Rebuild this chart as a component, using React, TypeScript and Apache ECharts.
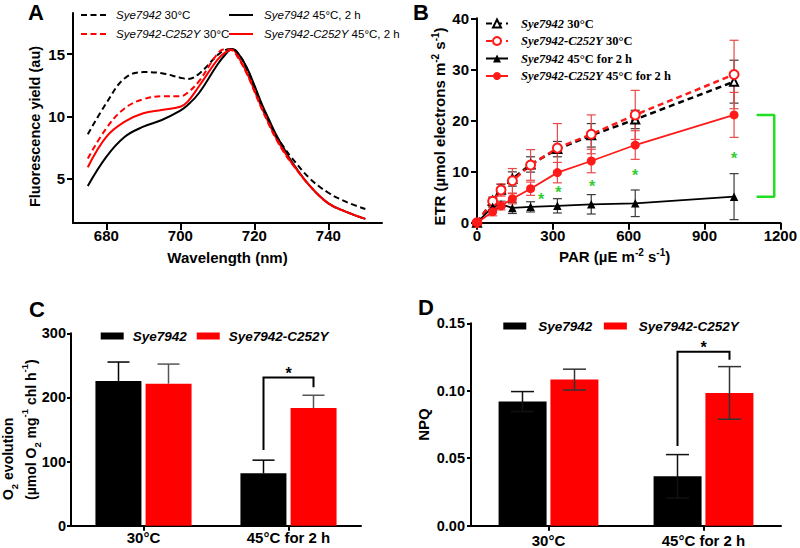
import React, { useEffect, useRef } from "react";
import * as echarts from "echarts";

const SANS = '"Liberation Sans", Arial, Helvetica, sans-serif';
const SERIF = '"Liberation Serif", "Times New Roman", serif';

// ---------- Panel A: fluorescence spectra ----------
const wavelengthNm = [675, 680, 685, 690, 695, 700, 702, 705, 710, 712, 714, 716, 718, 720, 722, 724, 726, 728, 730, 735, 740, 745, 750];
const fluorWt30 = [8.55, 11.05, 13.06, 13.55, 13.46, 13.1, 13.0, 13.4, 14.9, 15.3, 15.4, 14.9, 13.8, 12.4, 10.9, 9.6, 8.4, 7.5, 6.7, 5.0, 3.85, 3.1, 2.55];
const fluorMut30 = [6.6, 9.03, 10.65, 11.37, 11.6, 11.6, 11.9, 12.8, 15.0, 15.4, 15.3, 14.5, 13.4, 12.0, 10.6, 9.3, 8.1, 7.1, 6.25, 4.4, 3.0, 2.3, 1.75];
const fluorWt45 = [4.4, 6.74, 8.35, 9.16, 9.7, 10.45, 10.9, 11.85, 14.14, 14.9, 15.4, 14.9, 13.9, 12.5, 11.0, 9.7, 8.45, 7.4, 6.4, 4.4, 3.0, 2.3, 1.75];
const fluorMut45 = [5.9, 8.35, 9.57, 10.24, 10.5, 10.77, 11.18, 12.39, 14.54, 15.1, 15.35, 14.6, 13.5, 12.1, 10.7, 9.4, 8.2, 7.2, 6.3, 4.4, 3.0, 2.3, 1.75];
const wavelengthTicks = [680, 700, 720, 740];
const fluorTicks = [5, 10, 15];

// ---------- Panel B: ETR light curves ----------
const parLevels = [0, 62, 95, 140, 212, 318, 452, 626, 1017];
const etrWt30 = [0, 4.3, 6.5, 8.55, 11.4, 14.4, 17.1, 20.2, 27.6];
const etrWt30Sd = [0, 0.7, 1.0, 1.4, 1.5, 1.5, 2.3, 1.8, 4.2];
const etrMut30 = [0, 4.2, 6.4, 8.2, 11.3, 14.6, 17.3, 21.1, 29.0];
const etrMut30Sd = [0, 0.6, 1.2, 2.4, 3.0, 4.8, 3.8, 4.8, 6.7];
const etrWt45 = [0, 3.1, 3.6, 2.9, 3.1, 3.3, 3.6, 3.8, 5.1];
const etrWt45Sd = [0, 0.5, 0.6, 1.1, 1.0, 1.4, 1.9, 2.6, 4.5];
const etrMut45 = [0, 2.15, 3.3, 4.7, 6.65, 9.8, 12.07, 15.2, 21.1];
const etrMut45Sd = [0, 0.8, 0.8, 1.0, 1.3, 2.0, 2.3, 2.8, 4.4];
const starPar = [254, 322, 455, 626, 1017];
const starEtr = [5.2, 6.6, 7.7, 9.9, 13.2];
const bracketPar = [1106, 1176];
const bracketEtr = [21.1, 5.1];

// ---------- Panels C & D: bars ----------
const conditions = ["30°C", "45°C for 2 h"];
const o2Wt = [225.7, 81.7];
const o2WtSd = [29.5, 20.5];
const o2Mut = [221.5, 183.6];
const o2MutSd = [30.5, 19.8];
const o2Sig = [118, 231, 216, 243]; // left foot, top, right foot, star
const npqWt = [0.092, 0.0366];
const npqWtSd = [0.0074, 0.0161];
const npqMut = [0.1083, 0.0984];
const npqMutSd = [0.0077, 0.0195];
const npqSig = [0.0591, 0.129, 0.123, 0.135];

const WT = "Sye7942";
const MUT = "Sye7942-C252Y";

const zip = (xs: number[], ys: number[]) => xs.map((x, i) => [x, ys[i]]);

const supRich = {
  sup: { fontSize: 10, fontWeight: "bold", fontFamily: SANS, color: "#000", verticalAlign: "top", lineHeight: 12 },
  sub: { fontSize: 10, fontWeight: "bold", fontFamily: SANS, color: "#000", verticalAlign: "bottom", lineHeight: 12 },
};

const axisLineStyle = { show: true, onZero: false, lineStyle: { color: "#000", width: 2 } };
const tickStyle = (len: number, extra: any = {}) => ({ show: true, inside: false, length: len, lineStyle: { color: "#000", width: 2 }, ...extra });
const labelStyle = (size: number, margin: number, extra: any = {}) => ({
  color: "#000", fontFamily: SANS, fontWeight: "bold", fontSize: size, margin, ...extra,
});
const nameStyle = (size: number, extra: any = {}) => ({
  color: "#000", fontFamily: SANS, fontWeight: "bold", fontSize: size, lineHeight: 18, rich: supRich, ...extra,
});

function errSeries(axis: number, xs: number[], means: number[], sds: number[], color: string, capHalf: number, offset: number, lw: number, both: boolean) {
  const data = xs.map((x, i) => [x, both ? means[i] - sds[i] : means[i], means[i] + sds[i]]);
  return {
    type: "custom",
    xAxisIndex: axis,
    yAxisIndex: axis,
    z: both && axis === 1 ? 1 : 5,
    silent: true,
    encode: { x: 0, y: [1, 2] },
    data,
    renderItem: (_p: any, api: any) => {
      const x = api.value(0);
      const a = api.coord([x, api.value(1)]);
      const b = api.coord([x, api.value(2)]);
      const cx = a[0] + offset;
      const style = { stroke: color, lineWidth: lw };
      const children: any[] = [
        { type: "line", shape: { x1: cx, y1: a[1], x2: cx, y2: b[1] }, style },
        { type: "line", shape: { x1: cx - capHalf, y1: b[1], x2: cx + capHalf, y2: b[1] }, style },
      ];
      if (both) children.push({ type: "line", shape: { x1: cx - capHalf, y1: a[1], x2: cx + capHalf, y2: a[1] }, style });
      return { type: "group", children };
    },
  };
}

function sigSeries(axis: number, sig: number[], offset: number) {
  const idx = conditions.indexOf("45°C for 2 h");
  return {
    type: "custom",
    xAxisIndex: axis,
    yAxisIndex: axis,
    z: 6,
    silent: true,
    data: [[idx, ...sig]],
    renderItem: (_p: any, api: any) => {
      const c = api.value(0);
      const f1 = api.coord([c, api.value(1)]);
      const top = api.coord([c, api.value(2)]);
      const f2 = api.coord([c, api.value(3)]);
      const st = api.coord([c, api.value(4)]);
      const xl = top[0] - offset;
      const xr = top[0] + offset;
      return {
        type: "group",
        children: [
          { type: "polyline", shape: { points: [[xl, f1[1]], [xl, top[1]], [xr, top[1]], [xr, f2[1]]] }, style: { stroke: "#000", lineWidth: 2, fill: "none" } },
          { type: "text", x: top[0], y: st[1] + 3.5, style: { text: "*", fill: "#000", fontSize: 16, fontWeight: "bold", fontFamily: SANS, align: "center", verticalAlign: "middle" } },
        ],
      };
    },
  };
}

function lineA(name: string, ys: number[], color: string, dashed: boolean) {
  return {
    type: "line", name: "A::" + name, xAxisIndex: 0, yAxisIndex: 0,
    data: zip(wavelengthNm, ys), smooth: 0.4, symbol: "none", showSymbol: false,
    lineStyle: { color, width: 2, type: dashed ? [6, 3.5] : "solid" },
    itemStyle: { color },
    z: dashed ? 3 : 2,
  };
}

function lineB(name: string, ys: number[], color: string, symbol: string, size: number, dashed: boolean) {
  return {
    type: "line", name: "B::" + name, xAxisIndex: 1, yAxisIndex: 1,
    data: zip(parLevels, ys), symbol, symbolSize: size, showAllSymbol: true,
    lineStyle: { color, width: dashed ? 2.5 : 1.8, type: dashed ? [6, 4] : "solid" },
    itemStyle: { color, borderWidth: 1.2 },
    z: 3,
  };
}

const legendFormatter = (name: string) => {
  const t = name.split("::")[1] ?? name;
  return t.replace(/^(Sye7942(?:-C252Y)?)/, "{i|$1}");
};

function buildOption(): any {
  const starData = zip(starPar, starEtr);
  const bracketData = [
    [bracketPar[0], bracketEtr[0]],
    [bracketPar[1], bracketEtr[0]],
    [bracketPar[1], bracketEtr[1]],
    [bracketPar[0], bracketEtr[1]],
  ];
  const letter = (t: string, x: number, y: number) => ({
    type: "text", x, y,
    style: { text: t, fill: "#000", fontFamily: SANS, fontWeight: "bold", fontSize: 22, align: "left", verticalAlign: "middle" },
  });
  return {
    animation: false,
    backgroundColor: "#fff",
    grid: [
      { left: 73, top: 13, width: 309, height: 210 },
      { left: 477, top: 18.3, width: 306.5, height: 204.4 },
      { left: 71, top: 333.3, width: 290, height: 192.4 },
      { left: 471, top: 323.3, width: 310, height: 202.4 },
    ],
    xAxis: [
      {
        type: "value", gridIndex: 0, min: 671, max: 754.5,
        axisLine: axisLineStyle, splitLine: { show: false },
        axisTick: tickStyle(7, { customValues: wavelengthTicks }),
        axisLabel: labelStyle(15, 5, { customValues: wavelengthTicks }),
        name: "Wavelength (nm)", nameLocation: "middle", nameGap: 25.5, nameTextStyle: nameStyle(15),
      },
      {
        type: "value", gridIndex: 1, min: 0, max: 1200, interval: 300,
        axisLine: axisLineStyle, splitLine: { show: false },
        axisTick: tickStyle(7), axisLabel: labelStyle(15, 5, { formatter: (v: number) => String(v) }),
        name: "PAR (µE m{sup|-2} s{sup|-1})", nameLocation: "middle", nameGap: 25,
        nameTextStyle: nameStyle(15, { padding: [0, 28, 0, 0] }),
      },
      {
        type: "category", gridIndex: 2, data: conditions,
        axisLine: axisLineStyle, axisTick: tickStyle(5, { alignWithLabel: true }),
        axisLabel: labelStyle(15, 4),
      },
      {
        type: "category", gridIndex: 3, data: conditions,
        axisLine: axisLineStyle, axisTick: tickStyle(5, { alignWithLabel: true }),
        axisLabel: labelStyle(15, 7),
      },
    ],
    yAxis: [
      {
        type: "value", gridIndex: 0, min: 1.42, max: 18.3,
        axisLine: axisLineStyle, splitLine: { show: false },
        axisTick: tickStyle(6, { customValues: fluorTicks }),
        axisLabel: labelStyle(15, 8, { customValues: fluorTicks }),
        name: "Fluorescence yield (au)", nameLocation: "middle", nameGap: 29,
        nameTextStyle: nameStyle(14.5, { padding: [0, 17, 0, 0] }),
      },
      {
        type: "value", gridIndex: 1, min: 0, max: 40, interval: 10,
        axisLine: axisLineStyle, splitLine: { show: false },
        axisTick: tickStyle(6), axisLabel: labelStyle(15, 8),
        name: "ETR (µmol electrons m{sup|-2} s{sup|-1})", nameLocation: "middle", nameGap: 29,
        nameTextStyle: nameStyle(15, { padding: [0, 12, 0, 0] }),
      },
      {
        type: "value", gridIndex: 2, min: 0, max: 300, interval: 100,
        axisLine: axisLineStyle, splitLine: { show: false },
        axisTick: tickStyle(4), axisLabel: labelStyle(14.5, 5),
      },
      {
        type: "value", gridIndex: 3, min: 0, max: 0.15, interval: 0.05,
        axisLine: axisLineStyle, splitLine: { show: false },
        axisTick: tickStyle(4),
        axisLabel: labelStyle(14.5, 6, { formatter: (v: number) => v.toFixed(2) }),
        name: "NPQ", nameLocation: "middle", nameGap: 36, nameTextStyle: nameStyle(15),
      },
    ],
    legend: [
      {
        data: ["A::Sye7942 30°C", "A::Sye7942-C252Y 30°C"], orient: "vertical", left: 80, top: 9, padding: 0,
        itemWidth: 26, itemHeight: 12, itemGap: 7, itemStyle: { opacity: 0 }, formatter: legendFormatter,
        textStyle: { fontFamily: SANS, fontSize: 11.5, color: "#000", padding: [0, 0, 0, 4], rich: { i: { fontFamily: SANS, fontSize: 11.5, fontStyle: "italic", color: "#000" } } },
        selectedMode: false,
      },
      {
        data: ["A::Sye7942 45°C, 2 h", "A::Sye7942-C252Y 45°C, 2 h"], orient: "vertical", left: 228, top: 9, padding: 0,
        itemWidth: 24, itemHeight: 12, itemGap: 7, itemStyle: { opacity: 0 }, formatter: legendFormatter,
        textStyle: { fontFamily: SANS, fontSize: 11.5, color: "#000", padding: [0, 0, 0, 6], rich: { i: { fontFamily: SANS, fontSize: 11.5, fontStyle: "italic", color: "#000" } } },
        selectedMode: false,
      },
      {
        data: ["B::Sye7942 30°C", "B::Sye7942-C252Y 30°C", "B::Sye7942 45°C for 2 h", "B::Sye7942-C252Y 45°C for 2 h"],
        orient: "vertical", left: 485, top: 17, padding: 0,
        itemWidth: 22, itemHeight: 10, itemGap: 4.5, formatter: legendFormatter,
        textStyle: { fontFamily: SERIF, fontSize: 12.5, fontWeight: "bold", color: "#000", padding: [0, 0, 0, 8], rich: { i: { fontFamily: SERIF, fontSize: 12.5, fontWeight: "bold", fontStyle: "italic", color: "#000" } } },
        selectedMode: false,
      },
      {
        data: [WT, MUT], orient: "horizontal", left: 100.7, top: 329, padding: 0, icon: "rect",
        itemWidth: 23, itemHeight: 7, itemGap: 10,
        textStyle: { fontFamily: SANS, fontSize: 13.5, fontWeight: "bold", fontStyle: "italic", color: "#000", padding: [0, 0, 0, 4] },
        selectedMode: false,
      },
      {
        data: [WT, MUT], orient: "horizontal", left: 503.3, top: 319, padding: 0, icon: "rect",
        itemWidth: 23, itemHeight: 7, itemGap: 11.5,
        textStyle: { fontFamily: SANS, fontSize: 13.5, fontWeight: "bold", fontStyle: "italic", color: "#000", padding: [0, 0, 0, 7] },
        selectedMode: false,
      },
    ],
    graphic: [
      letter("A", 28, 12),
      letter("B", 413, 12),
      letter("C", 29, 309.2),
      letter("D", 418, 307.5),
      {
        type: "text", x: 19.5, y: 500, rotation: Math.PI / 2,
        style: {
          text: "O{sub|2} evolution\n(µmol O{sub|2} mg{sup|-1} chl h{sup|-1})",
          fill: "#000", fontFamily: SANS, fontWeight: "bold", fontSize: 14, lineHeight: 23,
          align: "left", verticalAlign: "middle",
          rich: {
            sup: { fontSize: 9.5, fontWeight: "bold", fontFamily: SANS, fill: "#000", verticalAlign: "top", lineHeight: 14 },
            sub: { fontSize: 9.5, fontWeight: "bold", fontFamily: SANS, fill: "#000", verticalAlign: "bottom", lineHeight: 14 },
          },
        },
      },
    ],
    series: [
      // Panel A
      lineA("Sye7942 30°C", fluorWt30, "#000", true),
      lineA("Sye7942-C252Y 30°C", fluorMut30, "#ff0000", true),
      lineA("Sye7942 45°C, 2 h", fluorWt45, "#000", false),
      lineA("Sye7942-C252Y 45°C, 2 h", fluorMut45, "#ff0000", false),
      // Panel B
      errSeries(1, parLevels, etrWt30, etrWt30Sd, "#3a3a3a", 4.5, 0, 1.2, true),
      errSeries(1, parLevels, etrMut30, etrMut30Sd, "#e84848", 4.5, 0, 1.2, true),
      errSeries(1, parLevels, etrWt45, etrWt45Sd, "#3a3a3a", 4.5, 0, 1.2, true),
      errSeries(1, parLevels, etrMut45, etrMut45Sd, "#e84848", 4.5, 0, 1.2, true),
      lineB("Sye7942 30°C", etrWt30, "#000", "emptyTriangle", 8, true),
      lineB("Sye7942-C252Y 30°C", etrMut30, "#ff1a1a", "emptyCircle", 9, true),
      lineB("Sye7942 45°C for 2 h", etrWt45, "#000", "triangle", 8.5, false),
      lineB("Sye7942-C252Y 45°C for 2 h", etrMut45, "#ff1a1a", "circle", 9, false),
      {
        type: "line", name: "bracket", xAxisIndex: 1, yAxisIndex: 1, data: bracketData,
        symbol: "none", lineStyle: { color: "#22dd22", width: 2.5 }, z: 4, silent: true,
      },
      {
        type: "custom", xAxisIndex: 1, yAxisIndex: 1, z: 4, silent: true, data: starData,
        encode: { x: 0, y: 1 },
        renderItem: (_p: any, api: any) => {
          const pt = api.coord([api.value(0), api.value(1)]);
          return { type: "text", x: pt[0], y: pt[1] + 3.5, style: { text: "*", fill: "#33cc33", fontSize: 16, fontWeight: "bold", fontFamily: SANS, align: "center", verticalAlign: "middle" } };
        },
      },
      // Panel C
      { type: "bar", name: WT, xAxisIndex: 2, yAxisIndex: 2, data: o2Wt, barWidth: 46, barGap: "9%", itemStyle: { color: "#000" } },
      { type: "bar", name: MUT, xAxisIndex: 2, yAxisIndex: 2, data: o2Mut, barWidth: 46, barGap: "9%", itemStyle: { color: "#ff0000" } },
      errSeries(2, [0, 1], o2Wt, o2WtSd, "#000", 11, -25, 1.5, false),
      errSeries(2, [0, 1], o2Mut, o2MutSd, "#555", 11, 25, 1.5, false),
      sigSeries(2, o2Sig, 25),
      // Panel D
      { type: "bar", name: WT, xAxisIndex: 3, yAxisIndex: 3, data: npqWt, barWidth: 48, barGap: "8%", itemStyle: { color: "#000" } },
      { type: "bar", name: MUT, xAxisIndex: 3, yAxisIndex: 3, data: npqMut, barWidth: 48, barGap: "8%", itemStyle: { color: "#ff0000" } },
      errSeries(3, [0, 1], npqWt, npqWtSd, "#111", 11.5, -26, 1.5, true),
      errSeries(3, [0, 1], npqMut, npqMutSd, "#333", 11.5, 26, 1.5, true),
      sigSeries(3, npqSig, 26),
    ],
  };
}

export default function App() {
  const ref = useRef<HTMLDivElement>(null);
  useEffect(() => {
    const chart = echarts.init(ref.current as HTMLDivElement, null, { renderer: "svg" });
    chart.setOption(buildOption());
    return () => chart.dispose();
  }, []);
  return (
    <div
      ref={ref}
      style={{ position: "fixed", left: 0, top: 0, width: 800, height: 548, background: "#fff" }}
    />
  );
}
